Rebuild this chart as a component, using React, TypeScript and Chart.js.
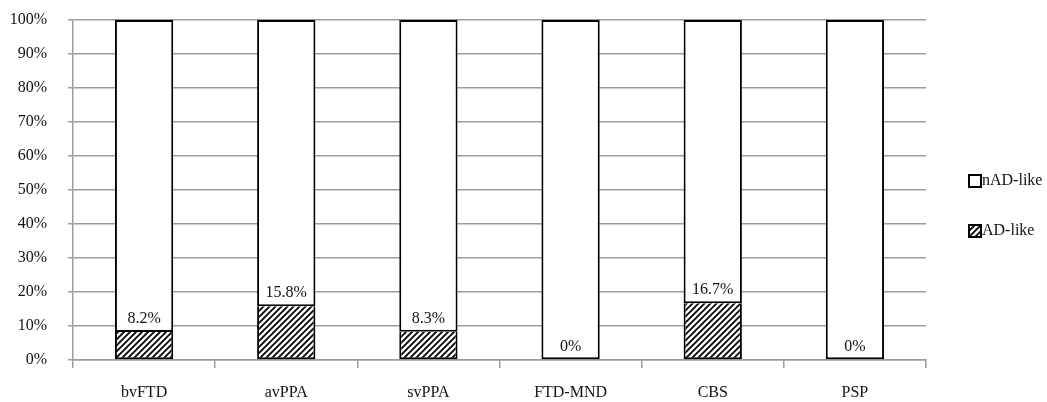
import React, { useEffect, useRef } from 'react';
import { Chart, registerables } from 'chart.js';

Chart.register(...registerables);

const categories = ['bvFTD', 'avPPA', 'svPPA', 'FTD-MND', 'CBS', 'PSP'];
const adLike = [8.2, 15.8, 8.3, 0, 16.7, 0];
const nadLike = [91.8, 84.2, 91.7, 100, 83.3, 100];
const adLabels = ['8.2%', '15.8%', '8.3%', '0%', '16.7%', '0%'];
const seriesNames = ['AD-like', 'nAD-like'];

const FONT = "'Liberation Serif', 'Times New Roman', serif";
const GRID = '#9c9c9c';

function makeHatch(): CanvasPattern | string {
  const size = 6;
  const c = document.createElement('canvas');
  c.width = size;
  c.height = size;
  const ctx = c.getContext('2d');
  if (!ctx) return '#888';
  ctx.fillStyle = '#fff';
  ctx.fillRect(0, 0, size, size);
  ctx.strokeStyle = '#000';
  ctx.lineWidth = 1.8;
  ctx.beginPath();
  ctx.moveTo(-1, size + 1);
  ctx.lineTo(size + 1, -1);
  ctx.moveTo(-1, 1);
  ctx.lineTo(1, -1);
  ctx.moveTo(size - 1, size + 1);
  ctx.lineTo(size + 1, size - 1);
  ctx.stroke();
  const p = ctx.createPattern(c, 'repeat');
  return p || '#888';
}

export default function App() {
  const ref = useRef<HTMLCanvasElement | null>(null);

  useEffect(() => {
    if (!ref.current) return;
    const hatch = makeHatch();

    const labelPlugin = {
      id: 'segLabels',
      afterDatasetsDraw(chart: any) {
        const ctx = chart.ctx;
        const meta = chart.getDatasetMeta(0);
        ctx.save();
        ctx.font = `16px ${FONT}`;
        ctx.fillStyle = '#111';
        ctx.textAlign = 'center';
        ctx.textBaseline = 'bottom';
        meta.data.forEach((el: any, i: number) => {
          ctx.fillText(adLabels[i], el.x, el.y - 5);
        });
        ctx.restore();
      },
    };

    const legendPlugin = {
      id: 'sideLegend',
      afterDraw(chart: any) {
        const ctx = chart.ctx;
        const ds = chart.data.datasets;
        const order = [1, 0];
        const x = chart.chartArea.right + 43;
        const ys = [181, 231];
        ctx.save();
        ctx.font = `16px ${FONT}`;
        ctx.textAlign = 'left';
        ctx.textBaseline = 'middle';
        order.forEach((di, k) => {
          const y = ys[k];
          ctx.fillStyle = ds[di].backgroundColor;
          ctx.fillRect(x, y - 6, 12, 12);
          ctx.lineWidth = 2;
          ctx.strokeStyle = '#000';
          ctx.strokeRect(x, y - 6, 12, 12);
          ctx.fillStyle = '#111';
          ctx.fillText(ds[di].label, x + 13, y);
        });
        ctx.restore();
      },
    };

    const chart = new Chart(ref.current, {
      type: 'bar',
      data: {
        labels: categories,
        datasets: [
          {
            label: seriesNames[0],
            data: adLike,
            backgroundColor: hatch as any,
            borderColor: '#000',
            borderWidth: 2,
            borderSkipped: 'top',
          },
          {
            label: seriesNames[1],
            data: nadLike,
            backgroundColor: '#ffffff',
            borderColor: '#000',
            borderWidth: 2,
            borderSkipped: false,
          },
        ],
      },
      options: {
        animation: false,
        responsive: true,
        maintainAspectRatio: false,
        devicePixelRatio: 1,
        layout: { padding: { top: 20, right: 121, left: 0, bottom: 0 } },
        datasets: { bar: { categoryPercentage: 1, barPercentage: 0.41 } },
        plugins: {
          legend: { display: false },
          tooltip: { enabled: false },
        },
        scales: {
          x: {
            stacked: true,
            grid: {
              offset: true,
              drawOnChartArea: false,
              drawTicks: true,
              tickLength: 8,
              color: GRID,
              lineWidth: 1.5,
            },
            border: { color: GRID, width: 1.5 },
            ticks: {
              font: { family: FONT, size: 16 },
              color: '#111',
              padding: 15,
              maxRotation: 0,
            },
            afterFit: (s: any) => {
              s.height = 42;
              s.paddingLeft = 0;
              s.paddingRight = 0;
            },
          },
          y: {
            stacked: true,
            min: 0,
            max: 100,
            grid: {
              color: GRID,
              lineWidth: 1.5,
              tickLength: 5,
            },
            border: { color: GRID, width: 1.5 },
            ticks: {
              stepSize: 10,
              font: { family: FONT, size: 16 },
              color: '#111',
              padding: 21,
              callback: (v: any) => `${v}%`,
            },
            afterFit: (s: any) => {
              s.width = 73;
              s.paddingTop = 0;
              s.paddingBottom = 0;
            },
          },
        },
      },
      plugins: [labelPlugin, legendPlugin],
    });

    return () => chart.destroy();
  }, []);

  return (
    <div style={{ position: 'absolute', left: 0, top: 0, width: 1047, height: 402, background: '#fff' }}>
      <canvas ref={ref} />
    </div>
  );
}
